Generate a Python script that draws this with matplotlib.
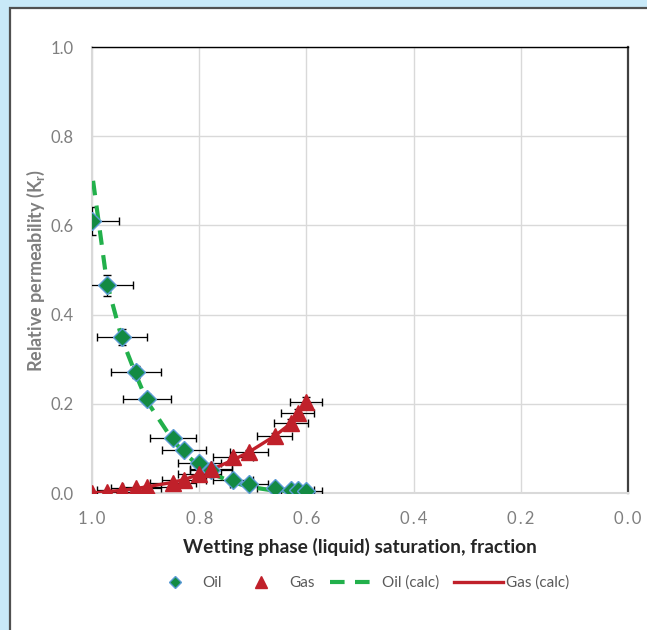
import numpy as np
from matplotlib import pyplot as plt
from matplotlib.lines import Line2D
from matplotlib.patches import Rectangle

# wetting phase saturation of the measured points
sw = np.array([1.0, 0.972, 0.944, 0.918, 0.897, 0.849, 0.828, 0.800,
               0.778, 0.737, 0.707, 0.659, 0.629, 0.616, 0.601])
kro = np.array([0.610, 0.466, 0.350, 0.271, 0.211, 0.123, 0.096, 0.068,
                0.052, 0.029, 0.020, 0.011, 0.007, 0.006, 0.005])
krg = np.array([0.000, 0.003, 0.007, 0.011, 0.014, 0.022, 0.029, 0.043,
                0.054, 0.080, 0.092, 0.128, 0.157, 0.179, 0.204])

# calculated curves
sw_calc = np.array([0.998, 0.972, 0.944, 0.918, 0.897, 0.849, 0.828, 0.800,
                    0.778, 0.737, 0.707, 0.659, 0.629, 0.616, 0.601])
kro_calc = np.array([0.700, 0.470, 0.345, 0.265, 0.205, 0.118, 0.090, 0.060,
                     0.044, 0.024, 0.014, 0.005, 0.002, 0.001, 0.000])
krg_calc = np.array([0.000, 0.003, 0.006, 0.010, 0.014, 0.024, 0.030, 0.042,
                     0.052, 0.074, 0.092, 0.128, 0.156, 0.174, 0.204])

err_frac = 0.05

xticks = [1.0, 0.8, 0.6, 0.4, 0.2, 0.0]
xlabels = ["1\u2009.\u20090", "0\u2009.\u20098", "0\u2009.\u20096",
           "0\u2009.\u20094", "0\u2009.\u20092", "0\u2009.\u20090"]
yticks = [0.0, 0.2, 0.4, 0.6, 0.8, 1.0]

green = "#138a43"
green_line = "#22b04b"
blue_edge = "#5b9bd5"
red = "#c0202a"
grey_txt = "#7f7f7f"
plt.rcParams['font.family'] = ['Lato', 'DejaVu Sans']

fig = plt.figure(figsize=(6.47, 6.30), dpi=100)
fig.patch.set_facecolor("#c8e9f8")
fig.patches.append(Rectangle((9.5 / 647, -0.01), 1.1, 1 - 8.5 / 630 + 0.01,
                             transform=fig.transFigure, facecolor="white",
                             edgecolor="#505050", linewidth=1.6, zorder=-1))

ax = fig.add_axes([92 / 647, 1 - 493 / 630, 536 / 647, 446 / 630], zorder=1)
ax.set_xlim(1.0, 0.0)
ax.set_ylim(0.0, 1.0)
ax.grid(True, color="#d9d9d9", linewidth=1)
ax.set_axisbelow(True)

ax.errorbar(sw, kro, xerr=sw * err_frac, yerr=kro * err_frac, fmt="none",
            ecolor="black", elinewidth=0.9, capsize=3, zorder=3)
ax.errorbar(sw, krg, xerr=sw * err_frac, yerr=krg * err_frac, fmt="none",
            ecolor="black", elinewidth=0.9, capsize=3, zorder=3)

ax.plot(sw_calc, kro_calc, color=green_line, linewidth=3,
        linestyle=(0, (3.5, 2.5)), zorder=4)
ax.plot(sw_calc, krg_calc, color=red, linewidth=2.4, zorder=4)

ax.plot(sw, kro, linestyle="none", marker="D", markersize=9,
        markerfacecolor=green, markeredgecolor=blue_edge, markeredgewidth=1, zorder=5)
ax.plot(sw, krg, linestyle="none", marker="^", markersize=11,
        color=red, zorder=5)

ax.set_xticks(xticks)
ax.set_xticklabels(xlabels)
ax.set_yticks(yticks)
ax.set_yticklabels(["%.1f" % v for v in yticks])
ax.tick_params(length=0, labelsize=12, colors=grey_txt, pad=13)
ax.tick_params(axis="y", pad=13)

for s in ["left", "bottom"]:
    ax.spines[s].set_color("#d9d9d9")
    ax.spines[s].set_linewidth(1.5)
ax.spines["top"].set_color("black")
ax.spines["top"].set_linewidth(1)
ax.spines["right"].set_color("#404040")
ax.spines["right"].set_linewidth(1.6)

ax.set_xlabel("Wetting phase (liquid) saturation, fraction", fontsize=13.8,
              fontweight="bold", color="#262626", labelpad=8)
ax.set_ylabel("Relative permeability (K$_\\mathregular{r}$)", fontsize=13,
              fontweight="bold", color=grey_txt, labelpad=3)

handles = [
    Line2D([], [], linestyle="none", marker="D", markersize=6,
           markerfacecolor=green, markeredgecolor=blue_edge),
    Line2D([], [], linestyle="none", marker="^", markersize=9, color=red),
    Line2D([], [], color=green_line, linewidth=3, linestyle=(0, (3.5, 2.5))),
    Line2D([], [], color=red, linewidth=2.4),
]
fig.legend(handles, ["Oil", "Gas", "Oil (calc)", "Gas (calc)"], ncol=4,
           loc="center", bbox_to_anchor=(0.556, 1 - 583 / 630), frameon=False,
           fontsize=11, labelcolor="#595959", handlelength=3.2,
           handletextpad=0.2, columnspacing=1.0)

fig.savefig("out.png", dpi=100)
